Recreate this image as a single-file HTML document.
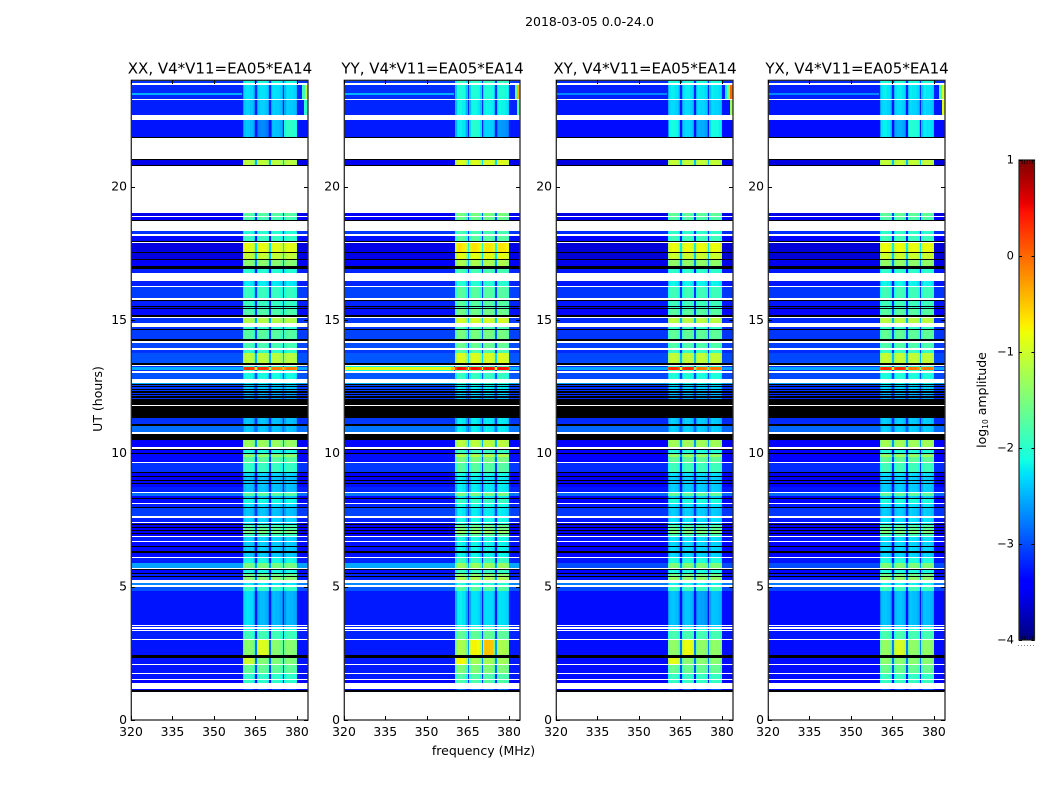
<!DOCTYPE html>
<html lang="en">
<head>
<meta charset="utf-8">
<title>2018-03-05 0.0-24.0 dynamic spectra</title>
<style>
html,body{margin:0;padding:0;background:#fff;}
svg{display:block;}
text{font-family:"DejaVu Sans","Liberation Sans",sans-serif;fill:#000;}
</style>
</head>
<body>
<svg id="figure" xmlns="http://www.w3.org/2000/svg" width="1050" height="800" viewBox="0 0 1050 800">
  <text x="589.5" y="26" font-size="12.5" text-anchor="middle">2018-03-05 0.0-24.0</text>
  <g id="panels"></g>
  <text transform="translate(102 399) rotate(-90)" font-size="12.5" text-anchor="middle">UT (hours)</text>
  <text x="483.5" y="755" font-size="12.5" text-anchor="middle">frequency (MHz)</text>
  <g id="colorbar"></g>
  <text transform="translate(986 400) rotate(-90)" font-size="12.5" text-anchor="middle">log<tspan font-size="7.5" dy="2">10</tspan><tspan dy="-2"> amplitude</tspan></text>
</svg>
<script>
// ---------- chart data (log10 amplitude) ----------
const panelTitles = ['XX, V4*V11=EA05*EA14', 'YY, V4*V11=EA05*EA14', 'XY, V4*V11=EA05*EA14', 'YX, V4*V11=EA05*EA14'];
const freqTicks = [320, 335, 350, 365, 380];
const timeTicks = [0, 5, 10, 15, 20];
const colorTicks = [-4, -3, -2, -1, 0, 1];
const colorTickLabels = ['\u22124', '\u22123', '\u22122', '\u22121', '0', '1'];

// Relative level of each 0.5 MHz channel inside the bright sub-bands (n = channel shows background only)
const n = null;
const channelGain = [
  n,n,n,n,n,n,n,n,n,n, n,n,n,n,n,n,n,n,n,n, n,n,n,n,n,n,n,n,n,n, n,n,n,n,n,n,n,n,n,n,
  n,n,n,n,n,n,n,n,n,n, n,n,n,n,n,n,n,n,n,n, n,n,n,n,n,n,n,n,n,n, n,n,n,n,n,n,n,n,n,n,
  n,-0.3,-0.05,0,0,0,-0.05,-0.05,-0.15,-0.35,
  -1.4,-0.3,-0.05,0,0,0,0,-0.05,-0.1,-0.25,
  -1.4,-0.25,-0.05,0,-0.03,-0.03,-0.03,-0.05,-0.1,-0.3,
  -1.4,-0.2,-0.05,0,-0.03,-0.03,-0.03,-0.05,-0.08,-0.2,
  n,n,n,n,n,n,n,n
];

// Time bands: [startHour, endHour, backgroundLevel, subBandLevel]; null level = black flagged row; gaps stay white
const timeBands = [
  [24,23.87,-3.0,-2.1],[23.82,23.52,-3.05,-2.25],[23.52,23.42,-3.05,-2.25],[23.42,23.29,-3.05,-2.25],[23.25,22.69,-3.1,-2.35],[22.5,21.86,-3.15,-2.4],[21.86,21.83,null],
  [21.04,21.01,null],[21.01,20.83,-3.4,-1.1],[20.83,20.8,null],
  [19.01,18.89,-3.4,-1.7],[18.85,18.76,-3.3,-1.8],[18.76,18.71,null],
  [18.34,18.21,-3.0,-2.0],[18.15,17.96,-3.2,-1.9],[17.96,17.92,null],
  [17.88,17.55,-3.45,-0.85],[17.55,17.51,null],[17.51,17.29,-3.45,-1.05],[17.29,17.25,null],[17.25,17.03,-3.35,-1.4],
  [17.03,16.91,null],[16.91,16.76,-3.1,-2.0],
  [16.46,16.27,-3.1,-2.2],[16.24,15.82,-2.95,-1.9],[15.76,15.74,null],[15.7,15.52,-3.1,-1.9],[15.52,15.49,null],
  [15.49,15.45,-3.2,-2.0],[15.45,15.41,null],[15.41,15.19,-3.2,-1.75],[15.19,15.11,null],[15.07,14.89,-3.0,-1.15],
  [14.72,14.66,-3.0,-2.0],[14.66,14.62,null],[14.62,14.29,-2.95,-1.7],[14.29,14.23,null],
  [14.14,13.95,-2.9,-1.8],[13.89,13.78,-3.0,-1.95],[13.78,13.76,null],[13.76,13.39,-2.85,-1.1],[13.39,13.32,null],
  [13.27,13.24,-3.0,-2.0],[13.24,13.12,-2.4,0.3],[13.12,13.08,-3.0,-2.0],
  [13.01,12.79,-2.85,-2.1],[12.64,12.6,-2.4,-2.2],[12.6,11.83,null],
  [12.56,12.52,-2.9,-2.4],[12.47,12.42,-2.95,-2.4],[12.37,12.33,-2.95,-2.5],[12.28,12.24,-3.0,-2.5],
  [12.19,12.14,-3.0,-2.6],[12.09,12.05,-3.0,-2.6],
  [11.79,11.32,null],[11.32,11.1,-3.0,-2.4],[11.1,11.02,null],[11.02,10.81,-2.7,-2.4],[10.72,10.5,null],
  [10.5,10.25,-3.25,-1.3],[10.16,10.14,null],[10.14,10.01,-3.3,-2.1],[10.01,9.99,null],[9.99,9.94,-3.2,-1.6],
  [9.94,9.86,-3.2,-1.3],[9.86,9.67,-3.2,-1.7],[9.64,9.3,-3.0,-1.9],[9.3,9.26,null],[9.26,9.15,-3.3,-2.3],
  [9.15,9.12,null],[9.12,9.0,-3.3,-2.4],[9.0,8.97,null],[8.97,8.89,-3.2,-2.4],[8.89,8.86,null],[8.86,8.75,-3.2,-2.4],
  [8.75,8.73,null],[8.73,8.56,-3.1,-2.4],[8.52,8.4,-2.7,-1.7],[8.4,8.32,-3.3,-2.4],[8.32,8.3,null],[8.3,8.15,-3.2,-2.1],
  [8.11,7.99,-3.1,-2.3],[7.99,7.96,null],[7.96,7.65,-2.95,-2.4],[7.56,7.44,-3.1,-2.3],[7.39,7.35,-3.4,-2.3],
  [7.35,7.31,null],[7.31,7.24,-3.3,-1.8],[7.24,7.2,null],[7.2,7.12,-3.3,-1.7],[7.12,7.09,null],[7.09,7.01,-3.3,-1.5],
  [7.01,6.97,null],[6.97,6.9,-3.3,-1.9],[6.86,6.73,-3.1,-2.3],[6.69,6.52,-3.2,-2.35],[6.52,6.49,null],[6.49,6.32,-3.2,-2.35],
  [6.32,6.28,null],[6.28,6.13,-3.2,-2.35],[6.09,5.89,-3.1,-2.1],[5.89,5.7,-2.45,-1.5],[5.68,5.64,null],[5.64,5.5,-3.2,-2.1],
  [5.5,5.46,null],[5.46,5.4,-3.1,-1.6],[5.4,5.36,null],[5.36,5.25,-3.1,-1.4],[5.14,5.06,-2.6,-2.2],
  [4.99,4.85,-2.85,-1.9],[4.85,3.56,-3.15,-2.45],[3.52,3.49,-3.1,-2.3],[3.43,3.37,-3.1,-2.1],[3.34,3.04,-3.1,-1.85],
  [3.0,2.44,-3.15,-1.4],[2.44,2.33,null],[2.33,2.1,-3.15,-1.45],[2.05,1.76,-3.15,-1.65],[1.72,1.54,-3.15,-1.95],
  [1.49,1.37,-3.3,-1.95],[1.16,1.13,-3.2,-3.0],[1.13,1.06,null]
];

// Offsets applied to every band per polarisation panel (XX, YY, XY, YX)
const panelBackgroundOffset = [-0.13, -0.1, -0.17, -0.17];
const panelSubBandOffset = [0, 0.2, 0.05, 0.05];

// Local features: [panel, startHour, endHour, startMHz, endMHz, level]
const localFeatures = [
  [0,23.85,23.28,382,384,-1.9],[0,23.85,23.28,383,384,-1.1],[0,23.25,22.9,382.5,384,-2.0],
  [1,23.85,23.28,382,384,-1.6],[1,23.85,23.28,383,384,-0.4],[1,23.25,22.9,383,384,-1.7],
  [2,23.85,23.28,381,384,-2.2],[2,23.85,23.28,382,384,-1.5],[2,23.85,23.28,383,384,0.0],[2,23.25,22.9,383,384,-1.3],
  [3,23.85,23.28,382,384,-1.9],[3,23.85,23.28,383,384,-1.0],[3,23.25,22.9,383,384,-0.9],
  [0,23.52,23.42,320,360,-2.5],[1,23.52,23.42,320,360,-2.5],[2,23.52,23.42,320,360,-2.7],[3,23.52,23.42,320,360,-2.7],
  [0,22.5,21.86,365,371,-2.7],[0,22.5,21.86,371,375,-2.4],[0,22.5,21.86,375,380,-1.95],
  [1,22.5,21.86,361,365,-2.2],[1,22.5,21.86,365,370,-2.0],[1,22.5,21.86,370,375,-2.3],[1,22.5,21.86,375,380,-2.6],
  [2,22.5,21.86,361,365,-2.1],[2,22.5,21.86,365,370,-2.3],[2,22.5,21.86,370,375,-2.5],[2,22.5,21.86,375,380,-2.1],
  [3,22.5,21.86,361,365,-2.2],[3,22.5,21.86,365,370,-2.5],[3,22.5,21.86,370,375,-2.0],[3,22.5,21.86,375,380,-2.2],
  [1,13.24,13.12,320,359,-0.85],[1,13.24,13.12,359,360.5,-0.5],[1,13.27,13.24,320,360,-2.2],[1,13.12,13.08,320,360,-2.2],
  [0,13.24,13.12,370,380,-0.05],[2,13.24,13.12,370,380,-0.05],[3,13.24,13.12,370,380,-0.05],
  [2,5.89,5.7,320,360.5,-3.0],[2,5.89,5.7,380,384,-3.0],[3,5.89,5.7,320,360.5,-3.0],[3,5.89,5.7,380,384,-3.0],
  [0,3.0,2.44,365.5,370,-0.9],[2,3.0,2.44,365.5,370,-0.8],[3,3.0,2.44,365.5,370,-0.95],
  [1,3.0,2.44,365.5,370,-0.75],[1,3.0,2.44,370.5,374.5,-0.45],
  [1,2.33,2.1,360.5,365,-0.75],[0,2.33,2.1,360.5,365,-1.0],[2,2.33,2.1,360.5,365,-0.85],
  [0,4.85,3.56,360.5,365,-2.25],[1,4.85,3.56,360.5,365,-2.2],[2,4.85,3.56,370,375,-2.55],[3,4.85,3.56,360.5,365,-2.4]
];

// ---------- layout and scales ----------
const SVG_NS = 'http://www.w3.org/2000/svg';
const panelLeft = [131, 344, 556, 768];
const panelWidth = [177, 176, 177, 177];
const plotTop = 80;
const plotBottom = 720;
const freqMin = 320;
const freqMax = 384;
const hourMax = 24;
const channelWidth = 0.5;
const levelMin = -4;
const levelMax = 1;
const barLeft = 1019;
const barRight = 1034.5;
const barTop = 160;
const barBottom = 640;

function xScale(panel, freq) {
  return panelLeft[panel] + (freq - freqMin) / (freqMax - freqMin) * panelWidth[panel];
}
function yScale(hour) {
  return plotBottom - hour / hourMax * (plotBottom - plotTop);
}
function colorY(level) {
  return barBottom - (level - levelMin) / (levelMax - levelMin) * (barBottom - barTop);
}
function ramp(x, stops) {
  for (let i = 1; i < stops.length; i++) {
    if (x <= stops[i][0]) {
      const a = stops[i - 1];
      const b = stops[i];
      return a[1] + (b[1] - a[1]) * (x - a[0]) / (b[0] - a[0]);
    }
  }
  return stops[stops.length - 1][1];
}
function jet(level) {
  const t = Math.max(0, Math.min(1, (level - levelMin) / (levelMax - levelMin)));
  const r = ramp(t, [[0,0],[0.35,0],[0.66,1],[0.89,1],[1,0.5]]);
  const g = ramp(t, [[0,0],[0.125,0],[0.375,1],[0.64,1],[0.91,0],[1,0]]);
  const b = ramp(t, [[0,0.5],[0.11,1],[0.34,1],[0.65,0],[1,0]]);
  return 'rgb(' + Math.round(r * 255) + ',' + Math.round(g * 255) + ',' + Math.round(b * 255) + ')';
}
function svgEl(tag, attrs, parent) {
  const el = document.createElementNS(SVG_NS, tag);
  for (const k in attrs) el.setAttribute(k, attrs[k]);
  parent.appendChild(el);
  return el;
}
function cellLevel(panel, band, channel) {
  const freq = freqMin + channel * channelWidth;
  const mid = (band[0] + band[1]) / 2;
  const gain = channelGain[channel];
  const bg = band[2] + panelBackgroundOffset[panel];
  let sig = (band[3] === undefined ? band[2] : band[3]) + panelSubBandOffset[panel];
  let over = null;
  for (const f of localFeatures) {
    if (f[0] === panel && mid <= f[1] && mid >= f[2] && freq >= f[3] - 0.001 && freq < f[4]) over = f[5];
  }
  if (gain === null) return over === null ? bg : over;
  if (over !== null) sig = over;
  return Math.max(bg, sig + gain);
}

// ---------- draw panels ----------
const panelsGroup = document.getElementById('panels');
panelTitles.forEach(function (title, p) {
  const g = svgEl('g', {}, panelsGroup);
  
  

  const cells = svgEl('g', { 'shape-rendering': 'crispEdges' }, g);
  
  

  timeBands.forEach(function (band) {
    const y0 = Math.round(yScale(band[0]));
    const y1 = Math.max(y0 + 1, Math.round(yScale(band[1])));
    const flagged = band[2] === null;
    let runStart = 0;
    let runFill = null;
    for (let c = 0; c <= channelGain.length; c++) {
      const fill = c === channelGain.length ? null : (flagged ? '#000' : jet(cellLevel(p, band, c)));
      if (fill !== runFill) {
        if (runFill !== null) {
          const x0 = Math.round(xScale(p, freqMin + runStart * channelWidth));
          const x1 = Math.round(xScale(p, freqMin + c * channelWidth));
          const cell = svgEl('rect', { x: x0, y: y0, width: x1 - x0, height: y1 - y0, fill: runFill }, cells);
          
          
        }
        runStart = c;
        runFill = fill;
      }
    }
  });

  const left = panelLeft[p];
  const right = left + panelWidth[p];

  const frame = svgEl('rect', { x: left + 0.3, y: plotTop + 0.3, width: panelWidth[p] - 0.3, height: plotBottom - plotTop - 0.3, fill: 'none', stroke: '#2a2a2a', 'stroke-width': 1.3 }, g);
  
  

  freqTicks.forEach(function (t) {
    const x = Math.round(xScale(p, t)) + 0.5;
    const bottomTick = svgEl('line', { x1: x, x2: x, y1: plotBottom, y2: plotBottom - 4, stroke: '#000' }, g);
    
    
    const topTick = svgEl('line', { x1: x, x2: x, y1: plotTop, y2: plotTop + 4, stroke: '#000' }, g);
    
    
    const label = svgEl('text', { x: xScale(p, t), y: 736, 'font-size': 12.4, 'text-anchor': 'middle' }, g);
    label.textContent = String(t);
    
    
  });

  timeTicks.forEach(function (t) {
    const y = Math.round(yScale(t)) + 0.5;
    const leftTick = svgEl('line', { x1: left, x2: left + 4, y1: y, y2: y, stroke: '#000' }, g);
    
    
    const rightTick = svgEl('line', { x1: right, x2: right - 4, y1: y, y2: y, stroke: '#000' }, g);
    
    
    const label = svgEl('text', { x: left - 4, y: yScale(t) + 3.8, 'font-size': 12.4, 'text-anchor': 'end' }, g);
    label.textContent = String(t);
    
    
  });

  const titleEl = svgEl('text', { x: left + panelWidth[p] / 2 + 0.5, y: 73.5, 'font-size': 15, 'text-anchor': 'middle' }, g);
  titleEl.textContent = title;
  
  
});

// ---------- draw colorbar ----------
const barGroup = document.getElementById('colorbar');
const barSteps = barBottom - barTop;
for (let i = 0; i < barSteps; i++) {
  const level = levelMin + (i + 0.5) / barSteps * (levelMax - levelMin);
  const yPos = Math.round(colorY(level) - 0.5);
  const strip = svgEl('rect', { x: barLeft, y: yPos, width: barRight - barLeft, height: 1, fill: jet(level), 'shape-rendering': 'crispEdges' }, barGroup);
  
  
}
const barFrame = svgEl('rect', { x: barLeft, y: barTop, width: barRight - barLeft, height: barBottom - barTop, fill: 'none', stroke: '#222', 'stroke-width': 1.2 }, barGroup);



colorTicks.forEach(function (t, i) {
  const y = Math.round(colorY(t)) + 0.5;
  const tl = svgEl('line', { x1: barLeft, x2: barLeft + 3, y1: y, y2: y, stroke: '#000' }, barGroup);
  
  
  const tr = svgEl('line', { x1: barRight, x2: barRight - 3, y1: y, y2: y, stroke: '#000' }, barGroup);
  
  
  const label = svgEl('text', { x: 1014, y: colorY(t) + 3.5, 'font-size': 11.5, 'text-anchor': 'end' }, barGroup);
  label.textContent = colorTickLabels[i];
  
  
});

// Small end-cap ticks along the colorbar's short edges and the faint dots beneath it
for (let k = 0; k < 5; k++) {
  const capX = barLeft + 3 + k * 2.5 + 0.25;
  const capTop = svgEl('line', { x1: capX, x2: capX, y1: barTop, y2: barTop + 4, stroke: '#000', 'stroke-width': 0.7 }, barGroup);
  
  
  const capBottom = svgEl('line', { x1: capX, x2: capX, y1: barBottom, y2: barBottom - 4, stroke: '#000', 'stroke-width': 0.7 }, barGroup);
  
  
}
for (let k = 0; k < 6; k++) {
  const dot = svgEl('rect', { x: barLeft - 1 + k * 3, y: 645, width: 1, height: 1, fill: '#888' }, barGroup);
  
  
}
</script>
</body>
</html>
